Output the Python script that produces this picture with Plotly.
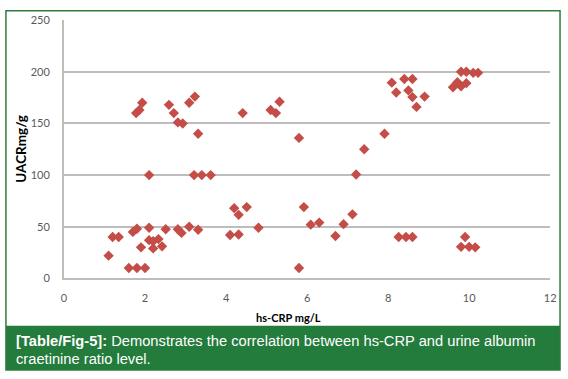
import plotly.graph_objects as go

hs_crp = [1.1, 1.2, 1.35, 1.6, 1.8, 2.0, 1.7, 1.8, 1.9, 2.1, 2.1, 2.2, 2.33, 2.2, 2.42,
          2.51, 2.81, 2.9, 3.09, 3.31, 2.1, 3.21, 3.4, 3.62, 3.31, 1.78, 1.86, 1.93,
          2.59, 2.71, 2.81, 2.93, 3.09, 3.23, 4.41, 5.1, 5.23, 5.32, 4.1, 4.31, 4.2,
          4.31, 4.51, 4.8, 5.8, 5.8, 5.92, 6.09, 6.3, 6.7, 6.9, 7.12, 7.21, 7.41, 7.91,
          8.09, 8.2, 8.4, 8.6, 8.5, 8.6, 8.7, 8.9, 8.26, 8.44, 8.6, 9.6, 9.71, 9.8,
          9.8, 9.93, 10.1, 10.22, 9.93, 9.9, 9.8, 10.0, 10.15]
uacr = [22, 40, 40, 10, 10, 10, 45, 48, 30, 49, 37, 36, 38, 29, 31,
        47.5, 47.5, 44, 50, 47, 100, 100, 100, 100, 140, 160, 163, 170,
        168, 160, 151, 150, 170, 176, 160, 163, 160, 171, 42, 42.5, 68,
        61.5, 69, 49, 136, 10, 69, 52, 54, 41, 52.5, 62, 100.5, 125, 140,
        189.5, 180, 193, 193, 182, 175.5, 166, 176, 40, 40, 40, 185, 190, 186,
        200, 200, 199, 199, 189, 40, 30.5, 30.5, 30]

x_ticks = [0, 2, 4, 6, 8, 10, 12]
y_ticks = [0, 50, 100, 150, 200, 250]

W, H = 568, 379
L, R, T, B = 62, 556, 13, 281

def px(x):
    return x / W

def py(y):
    return 1 - y / H

fig = go.Figure()
fig.add_trace(go.Scatter(
    x=hs_crp, y=uacr, mode="markers",
    marker=dict(symbol="diamond", size=8, color="#C44D48",
                line=dict(width=0)),
    showlegend=False, hoverinfo="x+y"))

tickfont = dict(family="Lato, Open Sans, sans-serif", size=11, color="#595959")
fig.update_layout(
    width=W, height=H,
    margin=dict(l=0, r=0, t=0, b=0),
    paper_bgcolor="white", plot_bgcolor="white",
    xaxis=dict(domain=[px(L), px(R)], range=[0, 12], tickvals=x_ticks,
               showgrid=False, zeroline=False, showline=True,
               linecolor="#BDBDBD", linewidth=2,
               ticks="", tickfont=tickfont, ticklabelstandoff=8, fixedrange=True),
    yaxis=dict(domain=[py(B), py(T)], range=[0, 250.6], tickvals=y_ticks,
               showgrid=True, gridcolor="#BDBDBD", gridwidth=2,
               zeroline=False, showline=True, linecolor="#BDBDBD", linewidth=2,
               ticks="", tickfont=tickfont, ticklabelstandoff=10, fixedrange=True),
)

shapes = []
shapes.append(dict(type="rect", xref="paper", yref="paper",
                   x0=px(3), x1=px(566), y0=py(376), y1=py(4),
                   line=dict(color="#2E7D3E", width=1.5), fillcolor="rgba(0,0,0,0)"))
shapes.append(dict(type="rect", xref="paper", yref="paper",
                   x0=px(3), x1=px(566), y0=py(376), y1=py(330),
                   line=dict(width=0), fillcolor="#237B3C", layer="below"))
fig.update_layout(shapes=shapes)

annotations = [
    dict(text="<b>hs-CRP mg/L</b>", xref="paper", yref="paper",
         x=px(290), y=py(322), showarrow=False, xanchor="center", yanchor="middle",
         font=dict(family="Lato, sans-serif", size=11, color="black")),
    dict(text="<b>UACRmg/g</b>", xref="paper", yref="paper",
         x=px(18), y=py(147), showarrow=False, textangle=-90,
         xanchor="center", yanchor="middle",
         font=dict(family="Lato, sans-serif", size=13.5, color="black")),
    dict(text="<b>[Table/Fig-5]:</b> Demonstrates the correlation between hs-CRP and urine albumin",
         xref="paper", yref="paper", x=px(11), y=py(346), showarrow=False,
         xanchor="left", yanchor="middle",
         font=dict(family="Liberation Sans, Arial, sans-serif", size=14.7, color="white")),
    dict(text="craetinine ratio level.",
         xref="paper", yref="paper", x=px(11), y=py(364), showarrow=False,
         xanchor="left", yanchor="middle",
         font=dict(family="Liberation Sans, Arial, sans-serif", size=14.7, color="white")),
]
fig.update_layout(annotations=annotations)

fig.write_html("out.html",
               config={"displayModeBar": False},
               post_script="document.body.style.margin='0';document.body.style.overflow='hidden';")
